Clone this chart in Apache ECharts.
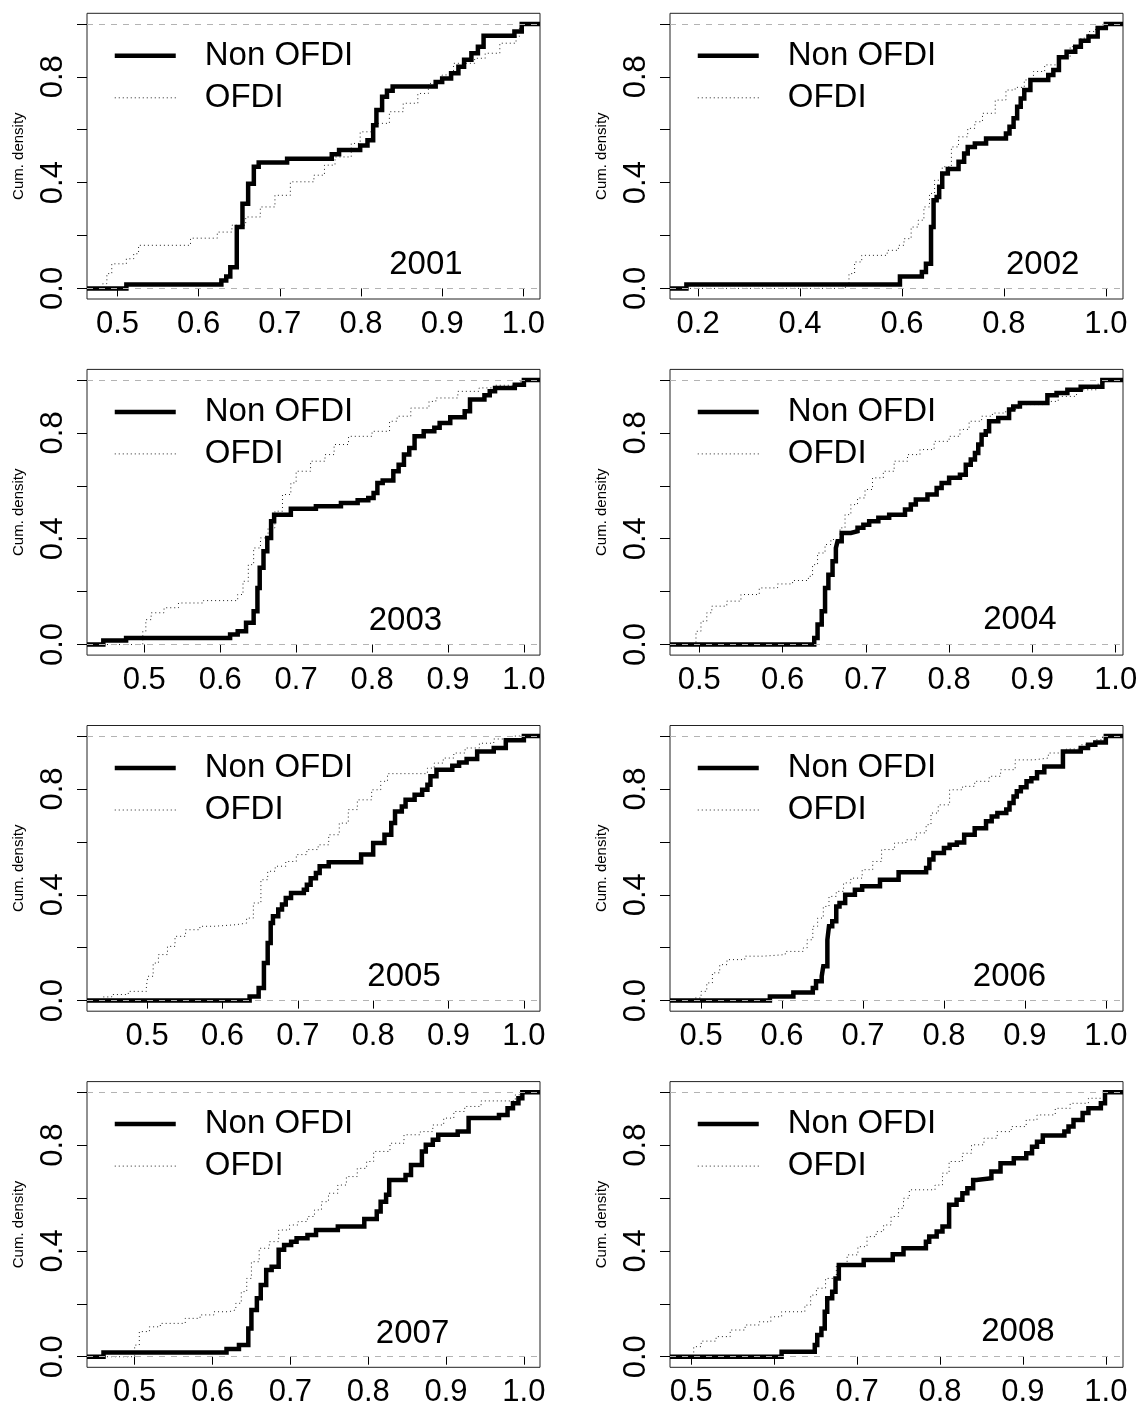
<!DOCTYPE html>
<html>
<head>
<meta charset="utf-8">
<script src="https://cdn.jsdelivr.net/npm/echarts@6/dist/echarts.min.js"></script>
<style>
html,body{margin:0;padding:0;background:#fff;}
#chart{width:1142px;height:1407px;}
</style>
</head>
<body>
<div id="chart"></div>
<script>
// ---------------- data ----------------
const years = ['2001','2002','2003','2004','2005','2006','2007','2008'];
const seriesNames = ['Non OFDI','OFDI'];
// x-axis extents of each panel
const xMin = [0.4625, 0.1448, 0.4245, 0.4648, 0.4202, 0.4616, 0.4388, 0.4744];
const xMax = [1.0205, 1.0337, 1.0212, 1.0088, 1.0214, 1.0212, 1.0207, 1.0207];
const xTicksDefault = [0.5, 0.6, 0.7, 0.8, 0.9, 1.0];
const xTicks2002 = [0.2, 0.4, 0.6, 0.8, 1.0];
const yTicks = [0, 0.2, 0.4, 0.6, 0.8, 1.0];
const yTickLabels = [0, 0.4, 0.8];
const refLines = [0, 1];
const yearLabelX = [0.88, 0.876, 0.844, 0.885, 0.841, 0.881, 0.857, 0.894];
const yearLabelY = [0.09, 0.09, 0.088, 0.092, 0.088, 0.09, 0.088, 0.092];

// ECDF jump points [x, cumulative density]
const non2001 = [[0.511,0.015],[0.628,0.03],[0.634,0.045],[0.639,0.08],[0.647,0.232],[0.654,0.32],[0.661,0.396],[0.668,0.46],[0.674,0.476],[0.709,0.49],[0.764,0.507],[0.773,0.523],[0.799,0.54],[0.808,0.56],[0.815,0.617],[0.819,0.674],[0.826,0.725],[0.832,0.747],[0.839,0.763],[0.892,0.78],[0.9,0.794],[0.911,0.813],[0.92,0.838],[0.927,0.864],[0.936,0.889],[0.944,0.914],[0.951,0.955],[0.989,0.971],[0.998,1]];
const ofdi2001 = [[0.482,0.018],[0.487,0.056],[0.493,0.093],[0.511,0.112],[0.52,0.131],[0.526,0.163],[0.59,0.19],[0.623,0.213],[0.641,0.239],[0.658,0.27],[0.676,0.308],[0.694,0.352],[0.713,0.403],[0.742,0.428],[0.755,0.466],[0.768,0.497],[0.788,0.548],[0.799,0.592],[0.815,0.624],[0.835,0.668],[0.852,0.7],[0.87,0.737],[0.883,0.775],[0.9,0.807],[0.914,0.851],[0.94,0.87],[0.953,0.889],[0.971,0.927],[0.991,0.952],[0.995,0.983],[1.0,1]];

const non2002 = [[0.177,0.015],[0.596,0.045],[0.639,0.062],[0.647,0.093],[0.657,0.232],[0.662,0.333],[0.668,0.346],[0.673,0.384],[0.679,0.434],[0.69,0.451],[0.711,0.479],[0.722,0.51],[0.729,0.535],[0.743,0.548],[0.765,0.567],[0.804,0.586],[0.811,0.611],[0.819,0.643],[0.826,0.687],[0.833,0.718],[0.84,0.75],[0.852,0.788],[0.887,0.807],[0.897,0.826],[0.908,0.874],[0.923,0.895],[0.94,0.914],[0.951,0.936],[0.966,0.952],[0.984,0.984],[1.0,1]];
const ofdi2002 = [[0.489,0.018],[0.496,0.056],[0.507,0.1],[0.521,0.125],[0.571,0.144],[0.593,0.163],[0.604,0.188],[0.618,0.232],[0.632,0.258],[0.643,0.308],[0.654,0.359],[0.664,0.409],[0.679,0.46],[0.697,0.535],[0.711,0.573],[0.729,0.605],[0.743,0.63],[0.758,0.662],[0.783,0.712],[0.804,0.75],[0.822,0.76],[0.84,0.788],[0.858,0.82],[0.88,0.845],[0.908,0.876],[0.93,0.914],[0.951,0.946],[0.966,0.971],[0.98,0.99],[0.994,1]];

const non2003 = [[0.446,0.015],[0.476,0.025],[0.613,0.038],[0.623,0.05],[0.634,0.082],[0.644,0.126],[0.649,0.214],[0.652,0.29],[0.657,0.353],[0.662,0.403],[0.667,0.466],[0.671,0.491],[0.693,0.513],[0.726,0.523],[0.759,0.535],[0.781,0.545],[0.795,0.554],[0.802,0.573],[0.807,0.611],[0.814,0.62],[0.828,0.655],[0.835,0.68],[0.842,0.718],[0.849,0.743],[0.856,0.787],[0.868,0.806],[0.882,0.819],[0.889,0.837],[0.903,0.859],[0.922,0.882],[0.929,0.926],[0.948,0.942],[0.955,0.957],[0.962,0.97],[0.988,0.982],[1.0,1]];
const ofdi2003 = [[0.498,0.05],[0.502,0.094],[0.509,0.12],[0.526,0.139],[0.545,0.157],[0.578,0.166],[0.623,0.189],[0.63,0.239],[0.637,0.302],[0.644,0.365],[0.653,0.403],[0.663,0.441],[0.672,0.504],[0.682,0.567],[0.693,0.611],[0.7,0.655],[0.719,0.693],[0.738,0.718],[0.75,0.756],[0.769,0.787],[0.8,0.806],[0.823,0.844],[0.833,0.863],[0.851,0.894],[0.875,0.919],[0.884,0.932],[0.913,0.957],[0.941,0.97],[0.96,0.98],[0.996,1]];

const non2004 = [[0.638,0.025],[0.642,0.076],[0.647,0.126],[0.651,0.214],[0.655,0.264],[0.66,0.315],[0.664,0.365],[0.666,0.39],[0.671,0.422],[0.682,0.428],[0.69,0.441],[0.697,0.453],[0.704,0.466],[0.715,0.479],[0.728,0.491],[0.747,0.51],[0.754,0.529],[0.76,0.548],[0.774,0.567],[0.785,0.592],[0.791,0.611],[0.8,0.63],[0.813,0.642],[0.82,0.68],[0.826,0.699],[0.831,0.724],[0.835,0.756],[0.839,0.793],[0.844,0.806],[0.848,0.844],[0.859,0.856],[0.872,0.888],[0.877,0.9],[0.885,0.913],[0.918,0.942],[0.929,0.951],[0.942,0.963],[0.958,0.974],[0.984,1]];
const ofdi2004 = [[0.496,0.05],[0.502,0.088],[0.509,0.12],[0.515,0.145],[0.533,0.164],[0.55,0.189],[0.572,0.214],[0.594,0.229],[0.612,0.242],[0.631,0.258],[0.636,0.302],[0.642,0.346],[0.651,0.378],[0.658,0.397],[0.669,0.441],[0.675,0.491],[0.682,0.529],[0.69,0.554],[0.699,0.586],[0.708,0.63],[0.721,0.655],[0.734,0.693],[0.75,0.718],[0.765,0.737],[0.782,0.768],[0.8,0.787],[0.813,0.813],[0.824,0.844],[0.839,0.863],[0.852,0.875],[0.868,0.888],[0.883,0.907],[0.914,0.919],[0.931,0.938],[0.953,0.963],[0.979,0.989],[0.986,1]];

const non2005 = [[0.636,0.016],[0.648,0.048],[0.655,0.142],[0.66,0.218],[0.664,0.293],[0.667,0.319],[0.674,0.344],[0.679,0.363],[0.684,0.388],[0.691,0.407],[0.708,0.419],[0.712,0.438],[0.717,0.463],[0.724,0.482],[0.729,0.508],[0.741,0.523],[0.784,0.552],[0.8,0.596],[0.815,0.627],[0.824,0.671],[0.829,0.715],[0.838,0.734],[0.843,0.759],[0.855,0.778],[0.865,0.797],[0.872,0.816],[0.876,0.848],[0.884,0.873],[0.905,0.888],[0.914,0.9],[0.924,0.913],[0.938,0.942],[0.96,0.955],[0.976,0.984],[1.0,1]];
const ofdi2005 = [[0.442,0.014],[0.453,0.023],[0.475,0.035],[0.499,0.054],[0.501,0.092],[0.508,0.142],[0.515,0.174],[0.527,0.205],[0.537,0.243],[0.551,0.268],[0.57,0.281],[0.589,0.287],[0.618,0.293],[0.632,0.312],[0.641,0.369],[0.651,0.457],[0.66,0.489],[0.67,0.508],[0.684,0.526],[0.698,0.552],[0.712,0.571],[0.727,0.589],[0.741,0.627],[0.755,0.671],[0.767,0.722],[0.779,0.759],[0.798,0.797],[0.81,0.829],[0.819,0.858],[0.872,0.879],[0.881,0.898],[0.893,0.917],[0.907,0.936],[0.922,0.955],[0.941,0.973],[0.96,0.989],[0.988,1]];

const non2006 = [[0.585,0.016],[0.614,0.031],[0.638,0.048],[0.642,0.073],[0.649,0.092],[0.651,0.13],[0.656,0.23],[0.658,0.281],[0.662,0.3],[0.667,0.356],[0.671,0.369],[0.678,0.4],[0.69,0.419],[0.699,0.432],[0.721,0.457],[0.744,0.485],[0.778,0.501],[0.782,0.533],[0.787,0.558],[0.8,0.577],[0.807,0.589],[0.816,0.598],[0.825,0.627],[0.838,0.652],[0.852,0.678],[0.859,0.696],[0.866,0.709],[0.877,0.722],[0.881,0.747],[0.886,0.772],[0.89,0.791],[0.895,0.807],[0.902,0.829],[0.908,0.841],[0.915,0.863],[0.924,0.885],[0.947,0.942],[0.969,0.955],[0.978,0.967],[0.987,0.976],[1.0,1]];
const ofdi2006 = [[0.491,0.01],[0.5,0.035],[0.507,0.067],[0.514,0.105],[0.523,0.136],[0.532,0.155],[0.554,0.168],[0.577,0.174],[0.604,0.186],[0.626,0.199],[0.631,0.23],[0.638,0.281],[0.644,0.312],[0.651,0.356],[0.658,0.394],[0.667,0.413],[0.676,0.445],[0.685,0.463],[0.699,0.495],[0.712,0.526],[0.723,0.571],[0.739,0.596],[0.753,0.608],[0.766,0.634],[0.778,0.665],[0.784,0.709],[0.793,0.74],[0.807,0.797],[0.823,0.81],[0.838,0.829],[0.856,0.848],[0.87,0.873],[0.888,0.91],[0.911,0.917],[0.929,0.936],[0.951,0.951],[0.969,0.967],[0.987,0.986],[0.996,1]];

const non2007 = [[0.46,0.016],[0.618,0.029],[0.634,0.044],[0.646,0.107],[0.65,0.177],[0.657,0.221],[0.662,0.271],[0.669,0.328],[0.676,0.34],[0.685,0.404],[0.692,0.422],[0.701,0.435],[0.708,0.448],[0.722,0.46],[0.733,0.479],[0.761,0.492],[0.795,0.521],[0.811,0.549],[0.816,0.586],[0.823,0.612],[0.827,0.668],[0.848,0.687],[0.855,0.725],[0.869,0.776],[0.874,0.801],[0.883,0.82],[0.89,0.839],[0.915,0.851],[0.929,0.902],[0.968,0.914],[0.979,0.939],[0.986,0.958],[0.993,0.977],[0.998,1]];
const ofdi2007 = [[0.5,0.044],[0.506,0.095],[0.519,0.113],[0.533,0.126],[0.565,0.145],[0.584,0.158],[0.602,0.17],[0.621,0.177],[0.63,0.202],[0.637,0.246],[0.644,0.296],[0.65,0.359],[0.66,0.41],[0.673,0.435],[0.685,0.479],[0.699,0.498],[0.71,0.511],[0.722,0.53],[0.731,0.555],[0.74,0.586],[0.749,0.618],[0.761,0.649],[0.772,0.681],[0.786,0.712],[0.798,0.738],[0.807,0.776],[0.828,0.807],[0.846,0.839],[0.867,0.851],[0.883,0.876],[0.897,0.902],[0.91,0.927],[0.924,0.946],[0.945,0.967],[0.989,0.99],[0.998,1]];

const non2008 = [[0.609,0.019],[0.649,0.044],[0.652,0.082],[0.657,0.107],[0.661,0.17],[0.664,0.221],[0.67,0.246],[0.674,0.296],[0.678,0.347],[0.708,0.366],[0.743,0.387],[0.756,0.41],[0.783,0.435],[0.787,0.454],[0.796,0.473],[0.803,0.492],[0.811,0.574],[0.82,0.593],[0.827,0.618],[0.833,0.637],[0.84,0.668],[0.844,0.675],[0.862,0.7],[0.873,0.731],[0.889,0.75],[0.904,0.769],[0.911,0.794],[0.917,0.813],[0.924,0.836],[0.95,0.851],[0.955,0.87],[0.961,0.895],[0.972,0.921],[0.979,0.939],[0.994,0.958],[0.999,1]];
const ofdi2008 = [[0.503,0.038],[0.512,0.059],[0.53,0.076],[0.547,0.101],[0.565,0.12],[0.582,0.132],[0.596,0.151],[0.609,0.17],[0.637,0.195],[0.644,0.233],[0.651,0.259],[0.662,0.296],[0.675,0.347],[0.688,0.385],[0.701,0.416],[0.712,0.454],[0.723,0.473],[0.732,0.498],[0.741,0.53],[0.75,0.561],[0.756,0.599],[0.763,0.631],[0.794,0.649],[0.803,0.694],[0.811,0.738],[0.827,0.769],[0.838,0.801],[0.853,0.826],[0.869,0.851],[0.886,0.87],[0.904,0.895],[0.917,0.914],[0.939,0.939],[0.957,0.958],[0.979,0.977],[0.999,1]];

const nonOFDI = [non2001, non2002, non2003, non2004, non2005, non2006, non2007, non2008];
const withOFDI = [ofdi2001, ofdi2002, ofdi2003, ofdi2004, ofdi2005, ofdi2006, ofdi2007, ofdi2008];

// ---------------- layout / style ----------------
const FONT = 'Liberation Sans, Arial, Helvetica, sans-serif';
const colLeft = [87, 670];
const rowTop0 = 13.3, rowPitch = 356.1;
const boxW = 453, boxH = 285.7;

const grids = [], xAxes = [], yAxes = [], series = [], legends = [];
const fmt = v => Number(v).toFixed(1);

for (let i = 0; i < 8; i++) {
  const col = i % 2, row = Math.floor(i / 2);
  const left = colLeft[col], top = rowTop0 + row * rowPitch;
  grids.push({
    left: left, top: top, width: boxW, height: boxH,
    show: true, borderColor: '#222', borderWidth: 1, backgroundColor: 'transparent',
    containLabel: false, outerBoundsMode: 'none'
  });
  const xt = i === 1 ? xTicks2002 : xTicksDefault;
  xAxes.push({
    type: 'value', gridIndex: i, min: xMin[i], max: xMax[i],
    axisLine: { show: false },
    axisTick: { show: true, customValues: xt, length: 8, inside: false, lineStyle: { color: '#000', width: 1 } },
    axisLabel: { show: true, customValues: xt, formatter: fmt, fontSize: 31, color: '#000', fontFamily: FONT, margin: 10 },
    splitLine: { show: false }
  });
  yAxes.push({
    type: 'value', gridIndex: i, min: -0.04, max: 1.04,
    axisLine: { show: false },
    axisTick: { show: true, customValues: yTicks, length: 10, inside: false, lineStyle: { color: '#000', width: 1 } },
    axisLabel: { show: true, customValues: yTickLabels, formatter: fmt, rotate: 90, fontSize: 31, color: '#000', fontFamily: FONT, margin: 18 },
    splitLine: { show: false },
    name: 'Cum. density', nameLocation: 'middle', nameRotate: 90, nameGap: 61,
    nameTextStyle: { fontSize: 15, color: '#000', fontFamily: FONT }
  });
  // reference dashed lines at 0 and 1
  series.push({
    type: 'line', name: 'ref' + i, xAxisIndex: i, yAxisIndex: i, data: [], z: 1, silent: true,
    markLine: {
      silent: true, symbol: ['none', 'none'], label: { show: false },
      lineStyle: { color: '#b3b3b3', type: [6, 6], width: 1 },
      emphasis: { disabled: true },
      data: refLines.map(v => ({ yAxis: v }))
    }
  });
  series.push({
    type: 'line', name: seriesNames[1], xAxisIndex: i, yAxisIndex: i, step: 'end',
    symbol: 'none', showSymbol: false, z: 3, silent: true,
    itemStyle: { color: '#222' },
    lineStyle: { color: '#222', width: 1, type: [1, 3] },
    data: [[xMin[i], 0]].concat(withOFDI[i], [[xMax[i], 1]])
  });
  series.push({
    type: 'line', name: seriesNames[0], xAxisIndex: i, yAxisIndex: i, step: 'end',
    symbol: 'none', showSymbol: false, z: 4, silent: true,
    itemStyle: { color: '#000' },
    lineStyle: { color: '#000', width: 4.5, cap: 'butt', join: 'miter' },
    data: [[xMin[i], 0]].concat(nonOFDI[i], [[xMax[i], 1]])
  });
  series.push({
    type: 'scatter', name: 'year' + i, xAxisIndex: i, yAxisIndex: i, z: 5, silent: true,
    symbol: 'circle', symbolSize: 0.01, itemStyle: { color: '#000', opacity: 1 },
    label: { show: true, position: 'inside', formatter: years[i], fontSize: 33, color: '#000',
      opacity: 1, textBorderWidth: 0, fontFamily: FONT },
    data: [[yearLabelX[i], yearLabelY[i]]]
  });
  legends.push({
    left: left + 20.5, top: top + 21, orient: 'vertical', padding: 5,
    itemWidth: 61, itemHeight: 14, itemGap: 9,
    selectedMode: false,
    textStyle: { fontSize: 33, color: '#000', fontFamily: FONT, padding: [0, 0, 0, 24] },
    data: [
      { name: seriesNames[0], itemStyle: { opacity: 0 }, lineStyle: { width: 4.5, color: '#000' } },
      { name: seriesNames[1], itemStyle: { opacity: 0 }, lineStyle: { width: 1, color: '#222', type: [1, 3] } }
    ]
  });
}

const chart = echarts.init(document.getElementById('chart'), null, { renderer: 'canvas' });
chart.setOption({
  backgroundColor: '#fff',
  animation: false,
  tooltip: { show: false },
  grid: grids,
  xAxis: xAxes,
  yAxis: yAxes,
  legend: legends,
  series: series
});
</script>
</body>
</html>
